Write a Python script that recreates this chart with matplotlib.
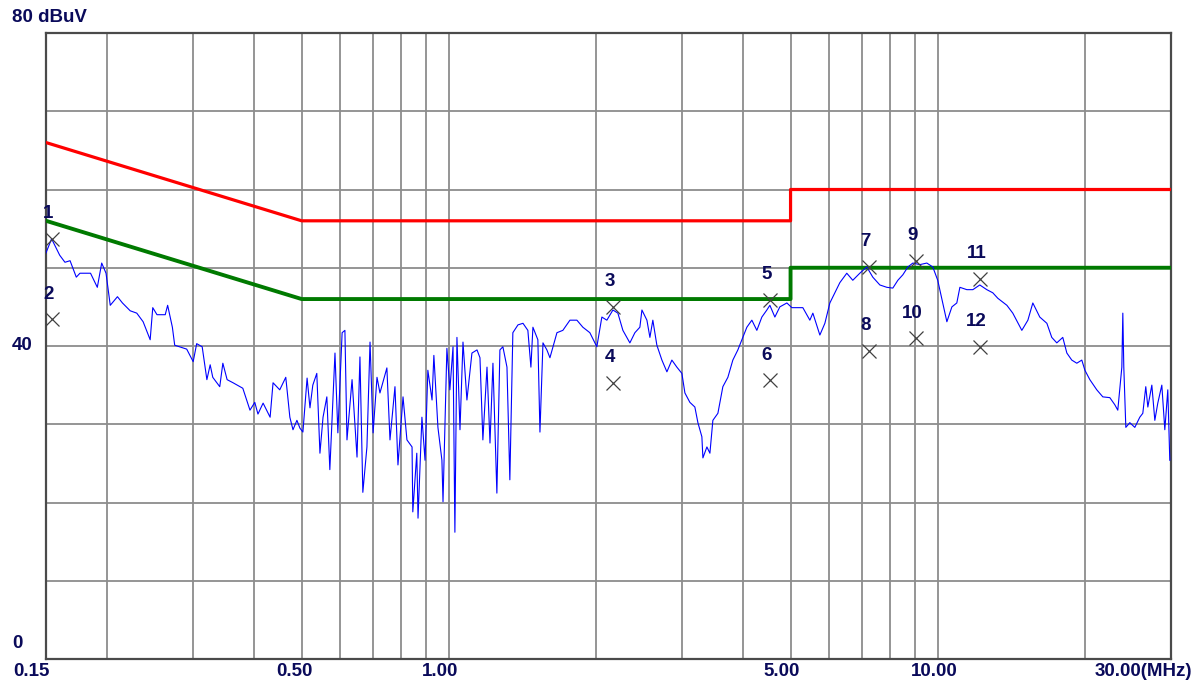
import matplotlib
matplotlib.use("Agg")
import matplotlib.pyplot as plt
from matplotlib.transforms import blended_transform_factory, offset_copy

# ---- measured spectrum (MHz, dBuV) ----
freq_mhz = [
    0.150, 0.154, 0.160, 0.164, 0.168, 0.173, 0.176, 0.185, 0.191, 0.195,
    0.199, 0.203, 0.210, 0.215, 0.223, 0.230, 0.237, 0.245, 0.248, 0.253,
    0.263, 0.266, 0.272, 0.275, 0.291, 0.300, 0.305, 0.313, 0.320, 0.325,
    0.329, 0.340, 0.345, 0.352, 0.362, 0.379, 0.392, 0.401, 0.407, 0.417,
    0.431, 0.437, 0.451, 0.464, 0.473, 0.480, 0.489, 0.496, 0.503, 0.513,
    0.520, 0.527, 0.537, 0.545, 0.553, 0.563, 0.571, 0.585, 0.593, 0.605,
    0.613, 0.619, 0.634, 0.649, 0.658, 0.667, 0.680, 0.690, 0.700, 0.713,
    0.723, 0.747, 0.758, 0.776, 0.787, 0.806, 0.821, 0.841, 0.844, 0.860,
    0.865, 0.881, 0.894, 0.906, 0.924, 0.932, 0.950, 0.968, 0.973, 0.991,
    1.005, 1.020, 1.029, 1.039, 1.054, 1.069, 1.089, 1.115, 1.142, 1.158,
    1.174, 1.197, 1.214, 1.231, 1.254, 1.272, 1.290, 1.315, 1.333, 1.352,
    1.385, 1.418, 1.451, 1.472, 1.486, 1.521, 1.536, 1.558, 1.587, 1.610,
    1.664, 1.711, 1.769, 1.828, 1.880, 1.943, 2.008, 2.056, 2.105, 2.166,
    2.217, 2.270, 2.346, 2.402, 2.459, 2.483, 2.542, 2.578, 2.614, 2.664,
    2.728, 2.793, 2.859, 2.927, 2.997, 3.040, 3.112, 3.186, 3.232, 3.293,
    3.309, 3.372, 3.420, 3.468, 3.551, 3.635, 3.722, 3.810, 3.901, 3.976,
    4.070, 4.167, 4.266, 4.368, 4.472, 4.536, 4.644, 4.754, 4.914, 5.031,
    5.150, 5.298, 5.476, 5.554, 5.740, 5.877, 6.017, 6.160, 6.307, 6.516,
    6.703, 6.928, 7.160, 7.365, 7.614, 7.869, 8.094, 8.288, 8.485, 8.688,
    8.895, 9.193, 9.500, 9.770, 10.00, 10.24, 10.44, 10.69, 10.94, 11.10,
    11.47, 11.80, 12.19, 12.60, 12.96, 13.27, 13.85, 14.24, 14.86, 15.29,
    15.65, 16.17, 16.72, 17.11, 17.52, 18.02, 18.37, 18.80, 19.25, 19.71,
    20.00, 20.47, 21.15, 21.76, 22.49, 23.02, 23.35, 23.80, 23.91, 24.02,
    24.25, 24.71, 25.30, 25.90, 26.27, 26.64, 26.90, 27.41, 27.80, 28.19,
    28.73, 29.14, 29.55, 29.83,
]
level_dbuv = [
    51.9, 53.7, 51.6, 50.7, 50.9, 48.8, 49.3, 49.3, 47.5, 50.6,
    49.3, 45.2, 46.3, 45.5, 44.5, 44.2, 43.1, 40.8, 44.9, 44.0,
    44.0, 45.2, 42.4, 40.1, 39.6, 38.0, 40.3, 39.9, 35.7, 37.6,
    36.0, 34.8, 37.8, 35.7, 35.3, 34.6, 31.8, 32.8, 31.3, 32.7,
    30.9, 35.3, 34.4, 36.0, 30.9, 29.3, 30.5, 29.5, 29.0, 35.9,
    32.1, 35.0, 36.5, 26.3, 30.9, 33.5, 24.2, 39.1, 28.9, 41.7,
    42.0, 28.0, 35.7, 25.8, 38.6, 21.3, 27.1, 40.5, 28.9, 36.0,
    34.0, 37.2, 28.0, 34.8, 24.8, 33.5, 28.0, 27.1, 18.8, 26.3,
    18.0, 30.9, 25.4, 36.9, 33.1, 38.8, 29.6, 25.4, 20.1, 39.7,
    34.4, 39.9, 16.2, 41.1, 29.3, 40.5, 33.1, 39.1, 39.5, 38.5,
    28.0, 37.3, 27.6, 37.8, 21.2, 39.5, 39.9, 37.3, 22.9, 41.7,
    42.7, 42.9, 42.0, 37.3, 42.4, 40.8, 29.0, 40.4, 39.5, 38.5,
    41.7, 42.0, 43.3, 43.3, 42.4, 41.7, 39.9, 43.7, 43.3, 44.6,
    44.2, 42.0, 40.4, 41.7, 42.4, 44.6, 43.3, 41.1, 43.3, 40.1,
    38.2, 36.7, 38.2, 37.3, 36.5, 34.0, 32.8, 32.2, 30.2, 28.4,
    25.7, 27.1, 26.3, 30.5, 31.4, 34.8, 36.0, 38.2, 39.5, 40.8,
    42.4, 43.3, 42.0, 43.7, 44.6, 45.2, 43.7, 45.0, 45.5, 44.9,
    44.9, 44.9, 43.3, 44.2, 41.4, 42.9, 45.5, 46.8, 48.1, 49.3,
    48.4, 49.3, 50.1, 48.8, 47.8, 47.5, 47.4, 48.4, 49.1, 50.1,
    50.6, 50.4, 50.6, 50.1, 48.4, 45.5, 43.1, 45.0, 45.5, 47.5,
    47.2, 47.2, 47.8, 47.2, 46.8, 46.1, 45.2, 44.2, 42.0, 43.3,
    45.5, 43.7, 42.9, 41.1, 40.4, 41.1, 39.1, 38.2, 37.8, 38.2,
    36.9, 35.7, 34.4, 33.5, 33.4, 32.5, 31.8, 37.3, 44.2, 37.3,
    29.6, 30.2, 29.6, 30.9, 31.4, 34.8, 32.2, 35.0, 30.5, 32.7,
    35.0, 29.3, 34.4, 25.4,
]

# ---- limit lines ----
qp_limit_freq = [0.15, 0.5, 5.0, 5.0, 30.0]
qp_limit_level = [66, 56, 56, 60, 60]
av_limit_freq = [0.15, 0.5, 5.0, 5.0, 30.0]
av_limit_level = [56, 46, 46, 50, 50]

# ---- marker readings ----
marker_ids = ["1", "2", "3", "4", "5", "6", "7", "8", "9", "10", "11", "12"]
marker_freq = [0.154, 0.154, 2.17, 2.17, 4.54, 4.54, 7.23, 7.23, 9.02, 9.02, 12.2, 12.2]
marker_level = [53.7, 43.4, 45.0, 35.3, 45.9, 35.6, 50.1, 39.4, 50.9, 41.0, 48.6, 39.9]

# ---- axis labelling ----
x_grid = [0.2, 0.3, 0.4, 0.5, 0.6, 0.7, 0.8, 0.9, 1, 2, 3, 4, 5, 6, 7, 8, 9, 10, 20]
y_grid = [10, 20, 30, 40, 50, 60, 70]
x_tick_vals = [0.15, 0.5, 1.0, 5.0, 10.0, 30.0]
x_tick_text = ["0.15", "0.50", "1.00", "5.00", "10.00", "30.00(MHz)"]
y_tick_vals = [80, 40, 0]
y_tick_text = ["80 dBuV", "40", "0"]

TEXT_COLOR = "#0a0a5a"
FONT = dict(family=["Liberation Sans", "DejaVu Sans"], weight="bold", size=13.5,
            color=TEXT_COLOR)

fig = plt.figure(figsize=(11.99, 6.85), dpi=100)
ax = fig.add_axes([46 / 1199, 26 / 685, 1125 / 1199, 626 / 685])
ax.set_xscale("log")
ax.set_xlim(0.15, 30)
ax.set_ylim(0, 80)

for xv in x_grid:
    ax.axvline(xv, color="#8c8c8c", lw=1.3, zorder=1)
for yv in y_grid:
    ax.axhline(yv, color="#8c8c8c", lw=1.3, zorder=1)

ax.plot(qp_limit_freq, qp_limit_level, color="#ff0000", lw=2.3, zorder=3)
ax.plot(av_limit_freq, av_limit_level, color="#007a00", lw=2.8, zorder=3)
ax.plot(freq_mhz, level_dbuv, color="#0000ff", lw=0.8, zorder=4)

ax.plot(marker_freq, marker_level, linestyle="none", marker="x",
        markersize=9.5, markeredgewidth=0.9, color="#404040", zorder=5)
for mid, mf, ml in zip(marker_ids, marker_freq, marker_level):
    ax.annotate(mid, (mf, ml), xytext=(-2.5, 18), textcoords="offset points",
                ha="center", va="center", **FONT)

ax.set_xticks([])
ax.set_yticks([])
ax.minorticks_off()
ax.tick_params(which="both", length=0, labelbottom=False, labelleft=False)
for sp in ax.spines.values():
    sp.set_color("#4a4a4a")
    sp.set_linewidth(1.6)

# frequency labels under the frame
xtrans = blended_transform_factory(ax.transData, ax.transAxes)
x_label_shift = [-15, -7, -9, -9, -3, 21]
for xv, txt, dx in zip(x_tick_vals, x_tick_text, x_label_shift):
    ha = "right" if txt.endswith("(MHz)") else "center"
    tr = offset_copy(xtrans, fig=fig, x=dx, y=-13, units="dots")
    ax.text(xv, 0, txt, transform=tr, ha=ha, va="center", **FONT)

# level labels on the left
ytrans = blended_transform_factory(ax.transAxes, ax.transData)
y_label_shift = [16, 0, 16]
for yv, txt, dy in zip(y_tick_vals, y_tick_text, y_label_shift):
    tr = offset_copy(ytrans, fig=fig, x=-34, y=dy, units="dots")
    ax.text(0, yv, txt, transform=tr, ha="left", va="center", **FONT)

fig.savefig("out.png", dpi=100, facecolor="white")
